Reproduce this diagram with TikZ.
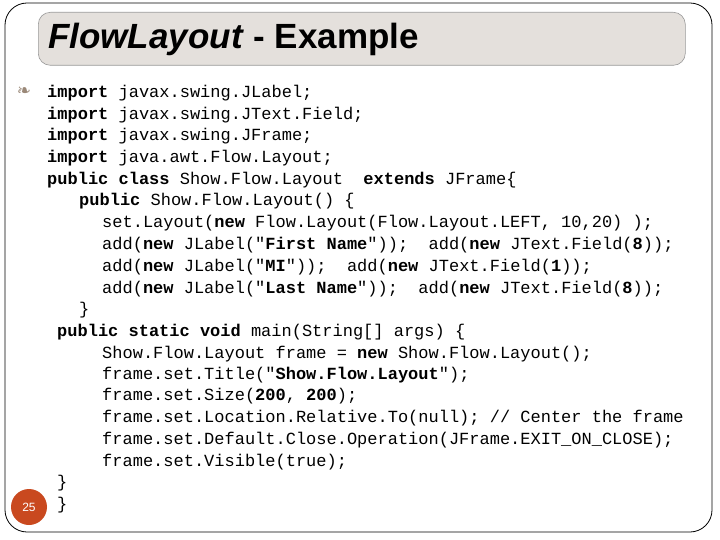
\documentclass[tikz,border=0pt]{standalone}
\usepackage{fontspec}
\setmainfont{Liberation Sans}
\setmonofont{Liberation Mono}
\newfontfamily\symfont{DejaVu Sans}
\definecolor{titlefill}{HTML}{E4E0DC}
\definecolor{numred}{HTML}{C9491F}
\definecolor{bulletc}{HTML}{9A8878}
\tikzset{code/.style={anchor=base west,inner sep=0pt,font=\fontsize{17}{20}\ttfamily}}
\newcommand{\kw}[1]{\textbf{#1}}
\begin{document}
\begin{tikzpicture}[x=1pt,y=-1pt]
\useasboundingbox (0,0) rectangle (720,540);
\draw[line width=0.8pt,rounded corners=22pt] (5,3) rectangle (712,532);
\node[draw=gray!80,line width=0.6pt,fill=titlefill,rounded corners=12pt,minimum width=647pt,minimum height=53pt,anchor=north west,inner sep=0pt] (title) at (38,12) {};
\node[anchor=base west,inner sep=0pt,font=\fontsize{35}{38}\selectfont\bfseries] (tt) at (48,49) {\textit{FlowLayout} - Example};
\node[anchor=center,inner sep=0pt,text=bulletc,font=\symfont\fontsize{17}{17}\selectfont] (bul) at (24,92) {❧};
\node[code] (l1) at (47,98) {\kw{import} javax.swing.JLabel;};
\node[code] (l2) at (47,120) {\kw{import} javax.swing.JText.Field;};
\node[code] (l3) at (47,141) {\kw{import} javax.swing.JFrame;};
\node[code] (l4) at (47,163) {\kw{import} java.awt.Flow.Layout;};
\node[code] (l5) at (47,185) {\kw{public class} Show.Flow.Layout\ \ \kw{extends} JFrame\{};
\node[code] (l6) at (79,206) {\kw{public} Show.Flow.Layout() \{};
\node[code] (l7) at (102,228) {set.Layout(\kw{new} Flow.Layout(Flow.Layout.LEFT, 10,20) );};
\node[code] (l8) at (102,249) {add(\kw{new} JLabel("\kw{First Name}"));\ \ add(\kw{new} JText.Field(\kw{8}));};
\node[code] (l9) at (102,271) {add(\kw{new} JLabel("\kw{MI}"));\ \ add(\kw{new} JText.Field(\kw{1}));};
\node[code] (l10) at (102,293) {add(\kw{new} JLabel("\kw{Last Name}"));\ \ add(\kw{new} JText.Field(\kw{8}));};
\node[code] (l11) at (79,314) {\}};
\node[code] (l12) at (57,336) {\kw{public static void} main(String[] args) \{};
\node[code] (l13) at (102,358) {Show.Flow.Layout frame = \kw{new} Show.Flow.Layout();};
\node[code] (l14) at (102,379) {frame.set.Title("\kw{Show.Flow.Layout}");};
\node[code] (l15) at (102,400) {frame.set.Size(\kw{200}, \kw{200});};
\node[code] (l16) at (102,422) {frame.set.Location.Relative.To(null); // Center the frame};
\node[code] (l17) at (102,444) {frame.set.Default.Close.Operation(JFrame.EXIT\_ON\_CLOSE);};
\node[code] (l18) at (102,466) {frame.set.Visible(true);};
\node[code] (l19) at (57,487) {\}};
\node[code] (l20) at (57,509) {\}};
\node[circle,fill=numred,minimum size=36pt,inner sep=0pt,text=white,font=\fontsize{12}{12}\selectfont] (num) at (29,507) {25};
\end{tikzpicture}
\end{document}
